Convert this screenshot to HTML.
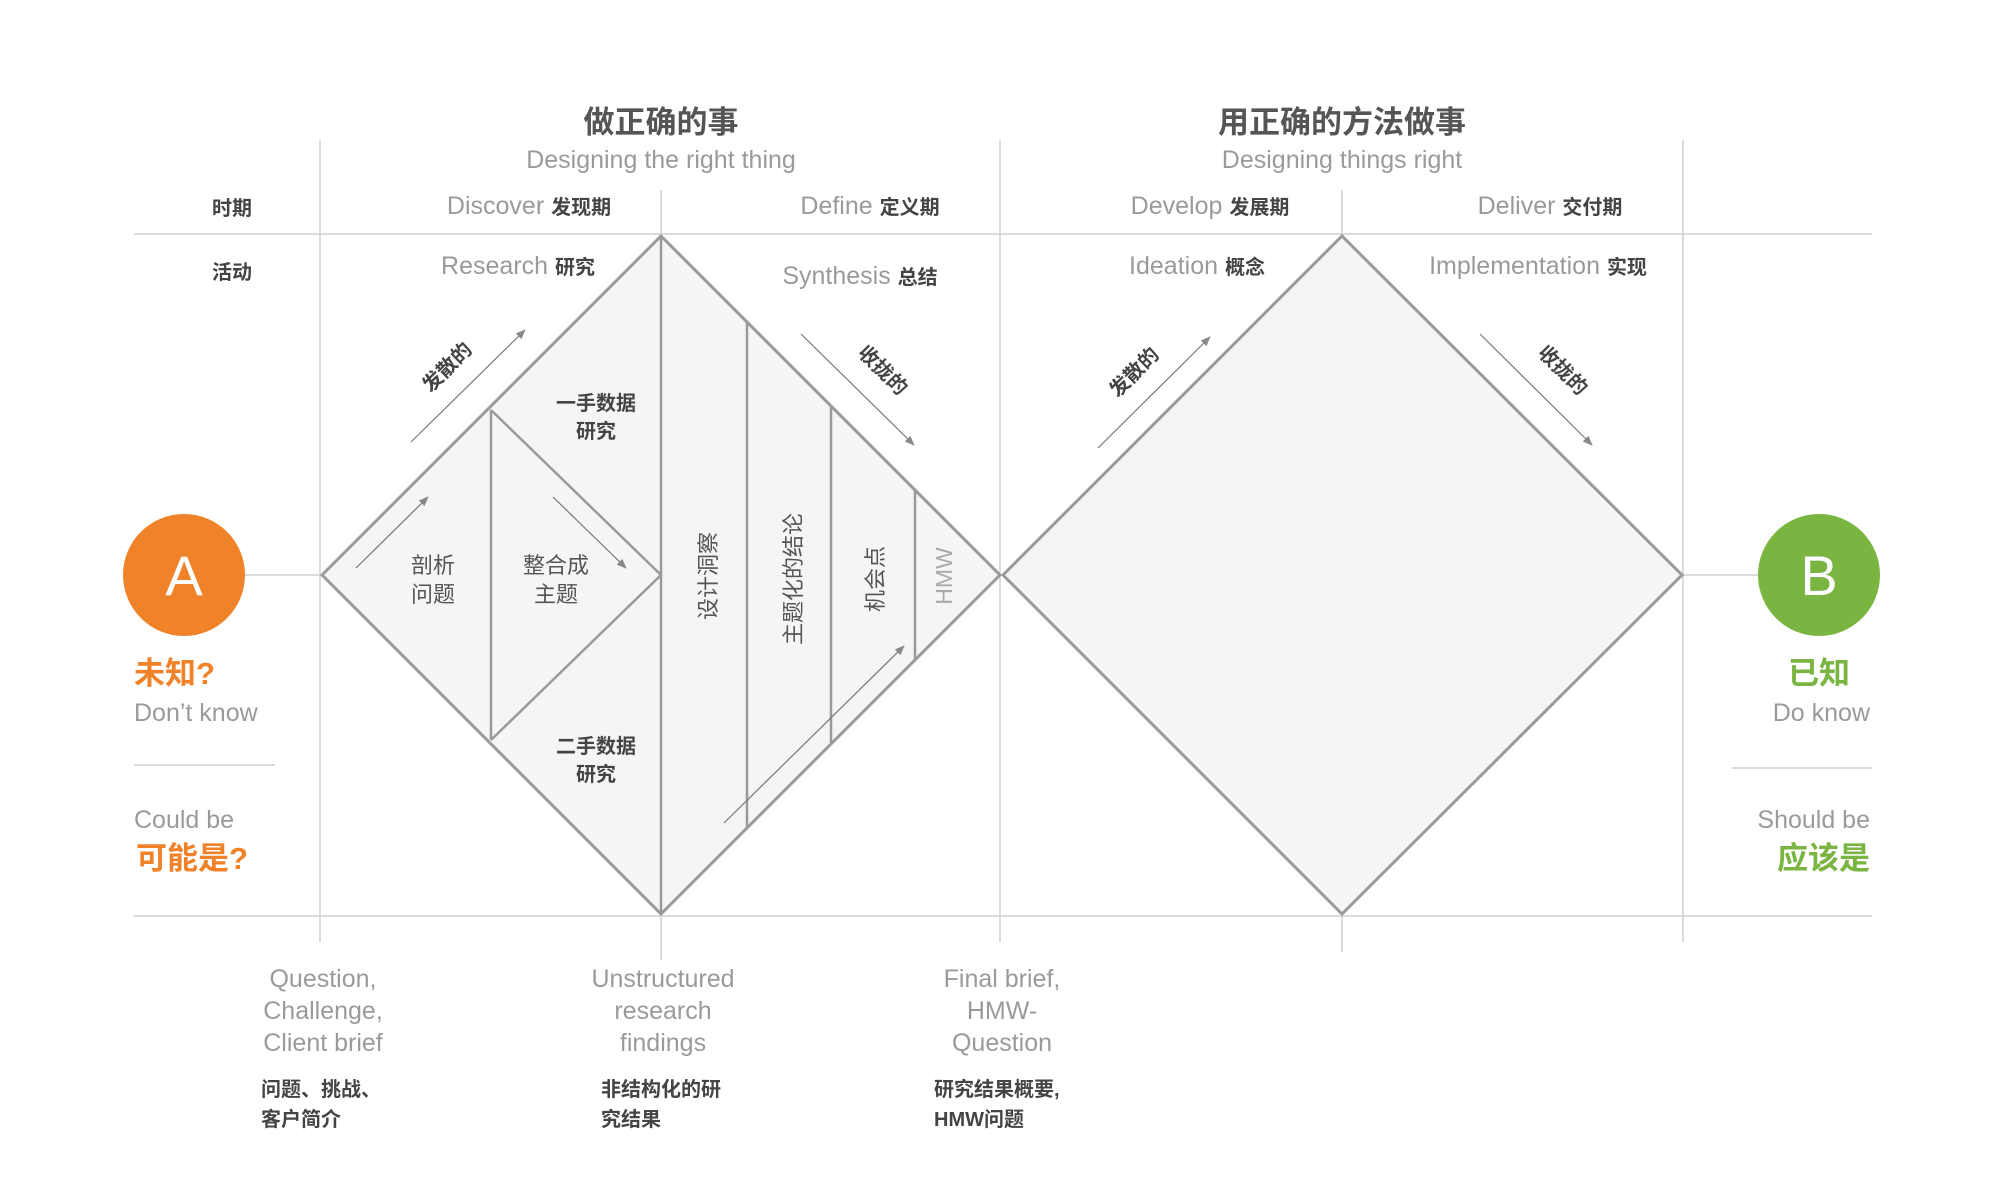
<!DOCTYPE html>
<html><head><meta charset="utf-8"><style>
html,body{margin:0;padding:0;background:#fff;}
svg{display:block;}
text{font-family:"Liberation Sans","Noto Sans CJK SC",sans-serif;}
.en{fill:#9a9a9a;font-size:25px;}
.cnb{fill:#444;font-weight:bold;font-size:20px;}
.g{stroke:#cfcfcf;stroke-width:1.5;fill:none;}
.d{stroke:#9a9a9a;stroke-width:3;fill:#f5f5f5;}
.v{stroke:#9a9a9a;stroke-width:2.5;}
.ar{stroke:#777;stroke-width:1.2;fill:none;marker-end:url(#ah);}
</style></head><body>
<svg width="2000" height="1186" viewBox="0 0 2000 1186" xmlns="http://www.w3.org/2000/svg">
<defs><marker id="ah" markerWidth="10" markerHeight="8" refX="9" refY="4" orient="auto" markerUnits="userSpaceOnUse"><path d="M0,0 L10,4 L0,8 Z" fill="#888"/></marker></defs>
<line class="g" x1="134" y1="234" x2="1872" y2="234"/>
<line class="g" x1="134" y1="916" x2="1872" y2="916"/>
<line class="g" x1="320" y1="140" x2="320" y2="942"/>
<line class="g" x1="661" y1="190" x2="661" y2="960"/>
<line class="g" x1="1000" y1="140" x2="1000" y2="942"/>
<line class="g" x1="1342" y1="190" x2="1342" y2="952"/>
<line class="g" x1="1683" y1="140" x2="1683" y2="942"/>
<line class="g" x1="240" y1="575" x2="320" y2="575"/>
<line class="g" x1="1683" y1="575" x2="1758" y2="575"/>
<line class="g" x1="134" y1="765" x2="275" y2="765"/>
<line class="g" x1="1732" y1="768" x2="1872" y2="768"/>
<polygon class="d" points="322,575 661,236 1000,575 661,914"/>
<polygon class="d" points="1003,575 1342,236 1682,575 1342,914"/>
<polyline class="v" fill="none" points="491,410 661,575 491,740"/>
<line class="v" x1="491" y1="410" x2="491" y2="740"/>
<line class="v" x1="661" y1="236" x2="661" y2="914"/>
<line class="v" x1="747" y1="322" x2="747" y2="828"/>
<line class="v" x1="831" y1="406" x2="831" y2="744"/>
<line class="v" x1="915" y1="490" x2="915" y2="660"/>
<line class="ar" x1="411" y1="442" x2="525" y2="330"/>
<line class="ar" x1="801" y1="334" x2="914" y2="445"/>
<line class="ar" x1="1098" y1="448" x2="1210" y2="337"/>
<line class="ar" x1="1480" y1="334" x2="1592" y2="445"/>
<line class="ar" x1="356" y1="568" x2="428" y2="497"/>
<line class="ar" x1="553" y1="497" x2="626" y2="568"/>
<line class="ar" x1="724" y1="823" x2="904" y2="646"/>
<circle cx="184" cy="575" r="61" fill="#f0822a"/>
<text x="184" y="595" text-anchor="middle" fill="#fff" font-size="56">A</text>
<circle cx="1819" cy="575" r="61" fill="#7ab541"/>
<text x="1819" y="595" text-anchor="middle" fill="#fff" font-size="56">B</text>
<text x="661" y="133" text-anchor="middle" fill="#555" font-weight="bold" font-size="31">做正确的事</text>
<text x="661" y="168" text-anchor="middle" class="en">Designing the right thing</text>
<text x="1342" y="133" text-anchor="middle" fill="#555" font-weight="bold" font-size="31">用正确的方法做事</text>
<text x="1342" y="168" text-anchor="middle" class="en">Designing things right</text>
<text x="232" y="215" text-anchor="middle" class="cnb">时期</text>
<text x="232" y="279" text-anchor="middle" class="cnb">活动</text>
<text x="529" y="214" text-anchor="middle"><tspan class="en">Discover </tspan><tspan class="cnb">发现期</tspan></text>
<text x="870" y="214" text-anchor="middle"><tspan class="en">Define </tspan><tspan class="cnb">定义期</tspan></text>
<text x="1210" y="214" text-anchor="middle"><tspan class="en">Develop </tspan><tspan class="cnb">发展期</tspan></text>
<text x="1550" y="214" text-anchor="middle"><tspan class="en">Deliver </tspan><tspan class="cnb">交付期</tspan></text>
<text x="518" y="274" text-anchor="middle"><tspan class="en">Research </tspan><tspan class="cnb">研究</tspan></text>
<text x="860" y="284" text-anchor="middle"><tspan class="en">Synthesis  </tspan><tspan class="cnb">总结</tspan></text>
<text x="1197" y="274" text-anchor="middle"><tspan class="en">Ideation </tspan><tspan class="cnb">概念</tspan></text>
<text x="1538" y="274" text-anchor="middle"><tspan class="en">Implementation </tspan><tspan class="cnb">实现</tspan></text>
<text class="cnb" font-size="19" text-anchor="middle" transform="translate(452,372) rotate(-45)">发散的</text>
<text class="cnb" font-size="19" text-anchor="middle" transform="translate(878,375) rotate(45)">收拢的</text>
<text class="cnb" font-size="19" text-anchor="middle" transform="translate(1139,377) rotate(-45)">发散的</text>
<text class="cnb" font-size="19" text-anchor="middle" transform="translate(1558,375) rotate(45)">收拢的</text>
<text x="596" y="410" text-anchor="middle" class="cnb" font-size="17">一手数据</text>
<text x="596" y="438" text-anchor="middle" class="cnb" font-size="17">研究</text>
<text x="596" y="753" text-anchor="middle" class="cnb" font-size="17">二手数据</text>
<text x="596" y="781" text-anchor="middle" class="cnb" font-size="17">研究</text>
<text x="433" y="573" text-anchor="middle" fill="#555" font-size="22">剖析</text>
<text x="433" y="602" text-anchor="middle" fill="#555" font-size="22">问题</text>
<text x="556" y="573" text-anchor="middle" fill="#555" font-size="22">整合成</text>
<text x="556" y="602" text-anchor="middle" fill="#555" font-size="22">主题</text>
<text text-anchor="middle" fill="#555" font-size="22" transform="translate(716,576) rotate(-90)">设计洞察</text>
<text text-anchor="middle" fill="#555" font-size="22" transform="translate(801,579) rotate(-90)">主题化的结论</text>
<text text-anchor="middle" fill="#555" font-size="22" transform="translate(883,579) rotate(-90)">机会点</text>
<text text-anchor="middle" fill="#aaa" font-size="23" transform="translate(952,576) rotate(-90)">HMW</text>
<text x="134" y="684" fill="#f0822a" font-weight="bold" font-size="31">未知?</text>
<text x="134" y="721" class="en">Don’t know</text>
<text x="134" y="828" class="en">Could be</text>
<text x="136" y="869" fill="#f0822a" font-weight="bold" font-size="31">可能是?</text>
<text x="1819" y="684" text-anchor="middle" fill="#7ab541" font-weight="bold" font-size="31">已知</text>
<text x="1870" y="721" text-anchor="end" class="en">Do know</text>
<text x="1870" y="828" text-anchor="end" class="en">Should be</text>
<text x="1870" y="869" text-anchor="end" fill="#7ab541" font-weight="bold" font-size="31">应该是</text>
<text x="323" y="987" text-anchor="middle" class="en">Question,</text>
<text x="323" y="1019" text-anchor="middle" class="en">Challenge,</text>
<text x="323" y="1051" text-anchor="middle" class="en">Client brief</text>
<text x="663" y="987" text-anchor="middle" class="en">Unstructured</text>
<text x="663" y="1019" text-anchor="middle" class="en">research</text>
<text x="663" y="1051" text-anchor="middle" class="en">findings</text>
<text x="1002" y="987" text-anchor="middle" class="en">Final brief,</text>
<text x="1002" y="1019" text-anchor="middle" class="en">HMW-</text>
<text x="1002" y="1051" text-anchor="middle" class="en">Question</text>
<text x="261" y="1096" class="cnb">问题、挑战、</text>
<text x="261" y="1126" class="cnb">客户简介</text>
<text x="601" y="1096" class="cnb">非结构化的研</text>
<text x="601" y="1126" class="cnb">究结果</text>
<text x="934" y="1096" class="cnb">研究结果概要,</text>
<text x="934" y="1126" class="cnb">HMW问题</text>
</svg>
</body></html>
